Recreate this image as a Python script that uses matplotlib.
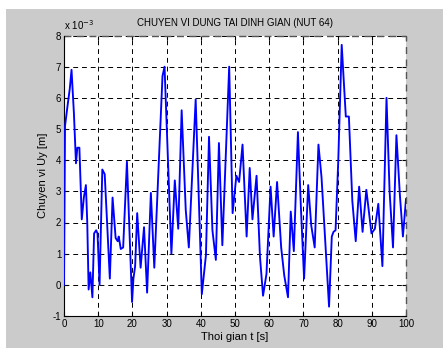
import matplotlib
matplotlib.use("Agg")
import matplotlib.pyplot as plt
from matplotlib.patches import Rectangle

plt.rcParams['font.family'] = ['Liberation Sans', 'DejaVu Sans']

# Time samples [s]
t = [0.0, 0.3, 1.1, 1.7, 2.2, 2.9, 3.5, 3.9, 4.5, 5.2, 5.8, 6.4, 6.8, 7.2, 7.7,
     8.3, 8.8, 9.4, 9.8, 10.4, 11.2, 11.9, 12.6, 13.4, 14.2, 15.1, 15.7, 16.0,
     16.6, 17.3, 18.4, 19.9, 20.3, 20.8, 21.4, 22.4, 23.4, 24.3, 25.4, 26.4,
     28.8, 29.4, 31.4, 32.4, 33.4, 34.4, 35.6, 36.5, 38.5, 40.3, 41.5, 42.4,
     43.4, 44.4, 45.3, 46.3, 48.3, 49.3, 50.4, 51.2, 52.2, 53.4, 54.3, 55.1,
     56.3, 57.3, 58.2, 59.2, 60.4, 61.3, 62.3, 63.5, 64.4, 65.5, 66.3, 67.2,
     68.4, 69.3, 70.2, 71.4, 72.3, 73.3, 74.4, 75.3, 77.5, 78.3, 78.8, 79.4,
     80.2, 81.2, 82.4, 83.3, 84.3, 85.3, 86.3, 87.3, 88.4, 89.9, 90.9, 91.9,
     93.1, 94.3, 95.2, 96.2, 97.2, 98.2, 99.1, 100.0]

# Vertical displacement Uy [x 1e-3 m]
uy = [0.0, 5.1, 5.8, 6.3, 6.9, 5.5, 3.9, 4.4, 4.4, 2.1, 2.8, 3.2, 2.0, -0.15, 0.4,
      -0.4, 1.65, 1.75, 1.65, 0.0, 3.7, 3.55, 2.0, 0.2, 2.8, 1.5, 1.4, 1.55,
      1.15, 1.2, 3.95, -0.55, 0.2, 0.6, 2.3, 0.55, 1.85, -0.25, 2.95, 0.55,
      6.7, 7.0, 1.0, 3.35, 1.8, 5.6, 2.4, 1.2, 5.95, -0.3, 0.95, 4.75,
      1.75, 0.8, 4.55, 1.27, 7.0, 2.3, 3.5, 3.3, 4.5, 1.55, 3.75, 2.1,
      3.5, 0.9, -0.35, 0.35, 3.15, 1.55, 3.3, 1.2, 0.3, -0.4, 2.35, 1.08,
      4.9, 2.4, 0.2, 3.2, 1.9, 1.2, 4.5, 3.45, -0.7, 1.55, 1.7, 1.75,
      4.0, 7.7, 5.4, 5.4, 2.7, 1.4, 3.15, 1.7, 3.05, 1.65, 1.8, 2.6,
      0.6, 6.0, 3.0, 1.2, 4.8, 2.9, 1.55, 2.75]

x_ticks = [0, 10, 20, 30, 40, 50, 60, 70, 80, 90, 100]
y_ticks = [-1, 0, 1, 2, 3, 4, 5, 6, 7, 8]

fig = plt.figure(figsize=(4.43, 3.48), dpi=100)
fig.patch.set_facecolor('white')
# grey figure panel (MATLAB-style window background)
fig.add_artist(Rectangle((6 / 443, 0), 1 - 6 / 443, 1 - 9 / 348,
                         transform=fig.transFigure, facecolor='#cbcbcb',
                         edgecolor='none', zorder=-10))

ax = fig.add_axes([64 / 443, 32 / 348, 342 / 443, 280.5 / 348])
ax.set_facecolor('white')

ax.plot(t, uy, color='#0000ff', lw=1.35, zorder=3)

ax.set_xlim(0, 100)
ax.set_ylim(-1, 8)
ax.set_xticks(x_ticks)
ax.set_yticks(y_ticks)
ax.set_xticklabels([str(v) for v in x_ticks], fontsize=7)
ax.set_yticklabels([str(v) for v in y_ticks], fontsize=7)
ax.tick_params(direction='in', length=3, width=0.8, colors='black', pad=2,
               top=True, right=True)

ax.grid(True, color='black', linestyle=(0, (5, 4)), linewidth=0.7)
for s in ('top', 'right'):
    ax.spines[s].set_visible(False)
for s in ('left', 'bottom'):
    ax.spines[s].set_linewidth(0.8)
# dashed frame on top and right edges
ax.axhline(8, color='#555555', linestyle=(0, (5, 4)), linewidth=1.0, clip_on=False)
ax.axvline(100, color='#555555', linestyle=(0, (5, 4)), linewidth=1.0, clip_on=False)

ax.set_title('CHUYEN VI DUNG TAI DINH GIAN (NUT 64)', fontsize=7, pad=7)
ax.text(0.0, 1.012, r'x 10$^{-3}$', transform=ax.transAxes, fontsize=7,
        ha='left', va='bottom')
ax.set_xlabel('Thoi gian t [s]', fontsize=8, labelpad=2)
ax.set_ylabel('Chuyen vi Uy [m]', fontsize=8, labelpad=3)

fig.savefig('out.png', dpi=100, facecolor=fig.get_facecolor())
